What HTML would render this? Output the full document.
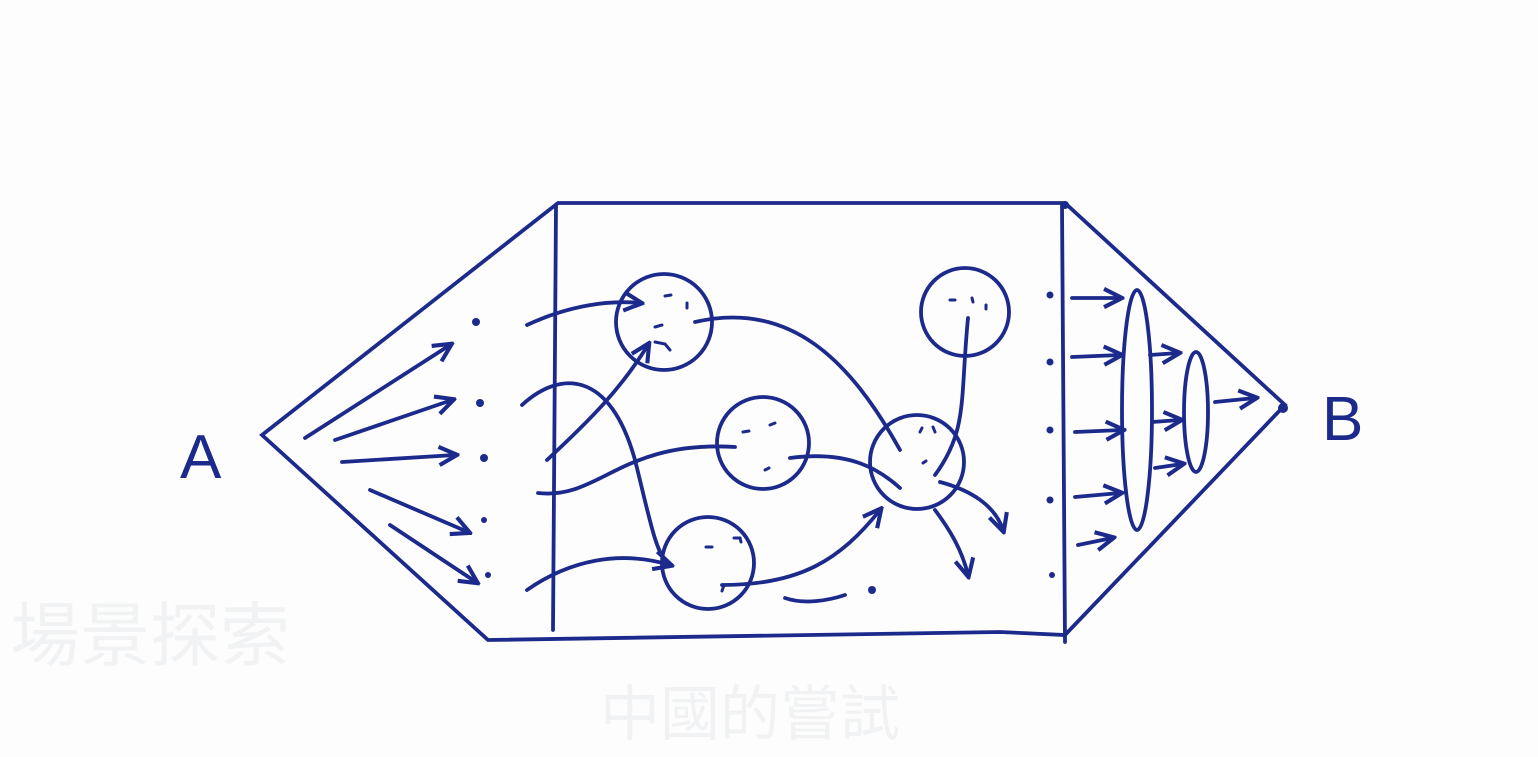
<!DOCTYPE html>
<html><head><meta charset="utf-8"><style>
html,body{margin:0;padding:0;background:#fdfdfd;}
svg{display:block}
text{font-family:"Liberation Sans",sans-serif;}
</style></head><body>
<svg width="1538" height="757" viewBox="0 0 1538 757">
<defs>
<marker id="ah" viewBox="0 0 10 10" refX="8" refY="5" markerWidth="6" markerHeight="6" orient="auto"><path d="M1,1 L9,5 L1,9" fill="none" stroke="#1c2a8c" stroke-width="1.8"/></marker>
</defs>
<g fill="none" stroke="#1c2a8c" stroke-width="3.8" stroke-linecap="round">
<path d="M262,435 L558,203 L1065,203 L1285,405 L1065,635 L1000,632 L488,640 Z"/>
<path d="M556,205 L553,630"/>
<path d="M1062,205 L1065,642"/>
<g marker-end="url(#ah)">
<path d="M305,438 L450,345"/><path d="M335,440 L452,400"/><path d="M342,462 L455,455"/><path d="M370,490 L468,532"/><path d="M390,525 L476,582"/>
</g>
<g>
<circle cx="664" cy="322" r="48"/><circle cx="763" cy="443" r="46"/><circle cx="708" cy="563" r="46"/><circle cx="917" cy="462" r="47"/><circle cx="965" cy="312" r="44"/>
</g>
<g stroke-width="3">
<path d="M665,296 l6,-1"/><path d="M687,303 l0,5"/><path d="M655,327 l7,-2"/><path d="M655,342 l10,2 l5,6"/>
<path d="M743,432 l6,-1"/><path d="M770,425 l5,-2"/><path d="M765,470 l4,-2"/>
<path d="M706,547 l6,0"/><path d="M734,538 l6,0 l1,4"/><path d="M724,585 l-2,6"/>
<path d="M920,432 l2,-4"/><path d="M933,427 l2,5"/><path d="M923,463 l3,-2"/>
<path d="M950,300 l5,0"/><path d="M972,298 l1,4"/><path d="M986,305 l0,4"/>
</g>
<g>
<path d="M527,325 C570,305 610,300 640,303" marker-end="url(#ah)"/>
<path d="M547,460 C590,420 620,390 648,345" marker-end="url(#ah)"/>
<path d="M522,405 C560,370 610,370 635,460 C650,520 655,550 668,565"/>
<path d="M538,493 C600,500 620,440 735,447"/>
<path d="M527,590 C570,560 620,550 670,565" marker-end="url(#ah)"/>
<path d="M695,322 C790,300 850,360 900,450"/>
<path d="M790,458 C850,450 880,470 900,488"/>
<path d="M722,585 C800,585 840,560 880,510" marker-end="url(#ah)"/>
<path d="M968,318 C960,400 968,430 935,475"/>
<path d="M940,482 C970,490 995,505 1003,530" marker-end="url(#ah)"/>
<path d="M935,510 C950,530 962,550 968,575" marker-end="url(#ah)"/>
<path d="M785,598 C805,605 830,600 845,595"/>
</g>
<ellipse cx="1137" cy="410" rx="15" ry="120"/>
<ellipse cx="1196" cy="412" rx="12" ry="60"/>
<g marker-end="url(#ah)">
<path d="M1072,298 L1120,298"/><path d="M1072,357 L1120,355"/><path d="M1075,432 L1122,430"/><path d="M1075,497 L1120,493"/><path d="M1078,545 L1112,538"/>
<path d="M1150,355 L1178,353"/><path d="M1152,422 L1180,420"/><path d="M1155,468 L1182,464"/>
<path d="M1215,402 L1255,398"/>
</g>
</g>
<g fill="#1c2a8c">
<circle cx="476" cy="322" r="4"/><circle cx="480" cy="403" r="4"/><circle cx="484" cy="458" r="4"/><circle cx="484" cy="520" r="3"/><circle cx="488" cy="575" r="3"/>
<circle cx="1050" cy="295" r="3.5"/><circle cx="1050" cy="362" r="3.5"/><circle cx="1050" cy="430" r="3.5"/><circle cx="1050" cy="500" r="3.5"/><circle cx="1052" cy="575" r="3"/>
<circle cx="872" cy="590" r="4"/><circle cx="1065" cy="205" r="4"/><circle cx="1283" cy="408" r="5"/>
</g>
<text x="180" y="478" font-size="62" fill="#1c2a8c">A</text>
<text x="1322" y="440" font-size="62" fill="#1c2a8c">B</text>
<text x="10" y="660" font-size="70" fill="#f1f2f4" font-family="Liberation Sans, Noto Sans CJK TC, sans-serif">場景探索</text>
<text x="600" y="735" font-size="60" fill="#f1f2f4" font-family="Liberation Sans, Noto Sans CJK TC, sans-serif">中國的嘗試</text>
</svg>
</body></html>
